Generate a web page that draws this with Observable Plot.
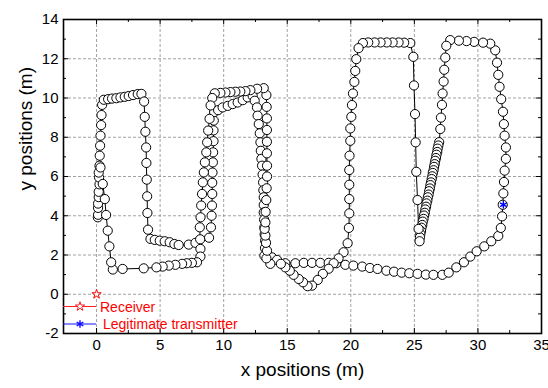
<!DOCTYPE html>
<html><head><meta charset="utf-8">
<script src="https://cdn.jsdelivr.net/npm/d3@7"></script>
<script src="https://cdn.jsdelivr.net/npm/@observablehq/plot@0.6"></script>
<style>
html,body{margin:0;padding:0;background:#fff;}
#chart{position:relative;width:548px;height:388px;overflow:hidden;font-family:"Liberation Sans",Arial,sans-serif;}
#chart svg.legend{position:absolute;left:0;top:0;}
</style></head><body><div id="chart"></div>
<script>
// ---- trajectory segments, [x, y] in metres, in walking order ----
const leftUp = [[0.1,3.92],[0.12,4.05],[0.12,4.4],[0.12,4.62],[0.17,4.95],[0.17,5.22],[0.23,5.6],[0.2,5.95],[0.17,6.2],[0.23,6.55],[0.25,7.06],[0.28,7.57],[0.31,8.08],[0.36,8.62],[0.39,9.13],[0.44,9.65]];
const firstTop = [[0.57,9.91],[0.91,9.94],[1.22,9.97],[1.56,9.99],[1.88,10.03],[2.22,10.06],[2.53,10.1],[2.87,10.15],[3.24,10.2],[3.53,10.21]];
const firstDown = [[3.74,9.82],[3.79,9.04],[3.84,8.28],[3.9,7.48],[3.92,6.69],[3.95,5.84],[3.98,4.99],[4.0,4.14],[4.05,3.29],[4.24,2.82]];
const innerLow = [[4.58,2.77],[4.97,2.73],[5.36,2.7],[5.75,2.65],[6.12,2.56],[6.46,2.51],[7.25,2.53],[7.78,2.62],[8.85,2.88]];
const innerUp = [[9.0,3.41],[9.05,4.0],[9.08,4.52],[9.1,5.11],[9.1,5.68],[9.12,6.2],[9.15,6.72],[9.17,7.23],[9.2,7.8],[9.2,8.35],[9.22,8.85],[9.25,9.28]];
const innerTop = [[9.56,9.38],[9.92,9.52],[10.32,9.6],[10.71,9.69],[11.1,9.77],[11.5,9.89],[11.89,10.03],[12.28,10.11]];
const innerDown = [[12.44,9.86],[12.62,9.52],[12.67,9.1],[12.76,8.67],[12.84,8.2],[12.89,7.74],[12.92,7.31],[12.97,6.9],[13.02,6.55],[13.06,6.1],[13.1,5.7],[13.12,5.3],[13.15,4.94],[13.15,4.55],[13.15,4.17],[13.18,3.8],[13.2,3.41],[13.22,3.05],[13.26,2.73],[13.25,2.35],[13.2,1.97]];
const lowerRow = [[13.8,1.88],[14.2,1.75],[14.85,1.58],[15.64,1.58],[16.3,1.6],[16.95,1.6],[17.6,1.6],[18.26,1.6],[18.86,1.58],[19.57,1.5],[20.2,1.46],[20.9,1.41],[21.5,1.34],[22.1,1.29],[22.8,1.2],[23.4,1.15],[24.0,1.1],[24.6,1.07],[25.25,1.04],[25.9,1.0],[26.5,0.99],[27.2,0.99],[27.7,1.1],[28.3,1.37],[28.9,1.63],[29.4,1.92],[29.9,2.19],[30.5,2.44],[31.05,2.7],[31.6,2.97]];
const rightUp = [[31.8,3.38],[31.9,3.97],[31.95,4.56],[32.0,5.14],[32.05,5.72],[32.1,6.3],[32.2,6.9],[32.2,7.48],[32.1,8.08],[32.04,8.67],[31.97,9.3],[31.83,9.94],[31.7,10.57],[31.6,11.18],[31.5,11.8],[31.36,12.43]];
const rightTop = [[30.97,12.77],[30.4,12.82],[29.7,12.86],[29.1,12.9],[28.5,12.92],[27.82,12.95],[27.51,12.66]];
const rightDown = [[27.43,12.06],[27.35,11.44],[27.3,10.84],[27.22,10.23],[27.17,9.65],[27.09,9.0],[27.04,8.42],[26.95,7.75]];
const diagonal = [[26.89,7.58],[26.83,7.42],[26.8,7.25],[26.74,7.11],[26.7,6.94],[26.64,6.8],[26.6,6.63],[26.55,6.49],[26.51,6.32],[26.45,6.18],[26.41,6.01],[26.36,5.87],[26.31,5.7],[26.26,5.56],[26.22,5.39],[26.16,5.25],[26.12,5.08],[26.06,4.94],[26.02,4.77],[25.96,4.63],[25.92,4.46],[25.86,4.32],[25.82,4.15],[25.76,4.01],[25.72,3.84],[25.66,3.7],[25.62,3.53],[25.56,3.39],[25.52,3.22],[25.47,3.07],[25.44,2.9]];
const midUp = [[25.41,2.7],[25.33,3.33],[25.25,4.8],[25.15,6.24],[25.1,7.74],[25.05,9.18],[24.97,10.64],[24.92,12.1]];
const midTop = [[24.68,12.8],[24.2,12.82],[23.76,12.83],[23.29,12.83],[22.82,12.83],[22.34,12.83],[21.87,12.83],[21.37,12.83],[20.95,12.8],[20.61,12.54]];
const midDown = [[20.43,11.98],[20.35,11.38],[20.28,10.82],[20.17,10.23],[20.09,9.64],[20.04,9.04],[19.96,8.45],[19.96,7.82],[19.9,7.06],[19.88,6.33],[19.88,5.58],[19.88,4.85],[19.88,4.12],[19.85,3.38],[19.75,2.6]];
const dip = [[19.43,2.14],[19.04,1.83],[18.65,1.58],[18.26,1.3],[17.8,1.04],[17.4,0.73],[16.95,0.44],[16.6,0.41],[16.24,0.61],[15.9,0.78],[15.5,0.99],[15.2,1.2],[14.85,1.37],[14.5,1.55],[13.67,1.55],[13.36,1.83]];
const outerUp = [[13.41,2.22],[13.33,2.62],[13.28,2.99],[13.22,3.33],[13.28,3.66],[13.3,4.2],[13.35,4.8],[13.38,5.4],[13.41,6.0],[13.41,6.55],[13.4,7.18],[13.4,7.77],[13.4,8.37],[13.4,8.96],[13.38,9.55],[13.36,10.15]];
const outerTop = [[13.15,10.5],[12.63,10.47],[12.1,10.4],[11.71,10.35],[11.31,10.33],[10.92,10.32],[10.53,10.3],[10.14,10.28],[9.74,10.26],[9.3,10.24]];
const outerDown = [[9.1,10.0],[8.97,9.62],[8.89,8.94],[8.78,8.34],[8.7,7.74],[8.63,7.23],[8.52,6.72],[8.44,6.21],[8.36,5.7],[8.3,5.11],[8.23,4.52],[8.18,3.92],[8.12,3.41],[8.15,2.8],[8.17,2.31],[8.17,1.92]];
const bottomRow = [[7.9,1.63],[7.5,1.6],[7.1,1.58],[6.73,1.55],[6.2,1.5],[5.68,1.46],[5.2,1.41],[4.71,1.37],[3.71,1.32],[2.05,1.29],[1.28,1.26]];
const leftEnd = [[1.15,1.63],[1.01,2.44],[0.88,3.24],[0.75,4.04],[0.65,4.85],[0.49,5.62],[0.31,6.46]];

const receiver = [{x: 0, y: 0}];
const transmitter = [{x: 32, y: 4.56}];

const xMajor = [0, 5, 10, 15, 20, 25, 30, 35];
const xMinor = [2.5, 7.5, 12.5, 17.5, 22.5, 27.5, 32.5];
const yMajor = [-2, 0, 2, 4, 6, 8, 10, 12, 14];
const yMinor = [-1, 1, 3, 5, 7, 9, 11, 13];
const xGrid = [0, 5, 10, 15, 20, 25, 30];
const yGrid = [0, 2, 4, 6, 8, 10, 12];

const xLabel = "x positions (m)";
const yLabel = "y positions (m)";
const legendLabels = ["Receiver", "Legitimate transmitter"];
const legendSymbols = [d3.symbolStar, d3.symbolAsterisk];
const legendColors = ["#ff2020", "#1010ff"];

// ---- build ----
const segments = [leftUp, firstTop, firstDown, innerLow, innerUp, innerTop, innerDown, lowerRow, rightUp, rightTop, rightDown, diagonal, midUp, midTop, midDown, dip, outerUp, outerTop, outerDown, bottomRow, leftEnd];
const path = segments.flat().map(([x, y]) => ({x, y}));

const W = 548, H = 388, mL = 63, mR = 7, mT = 19, mB = 55;
const pw = W - mL - mR, ph = H - mT - mB;
const font = '"Liberation Sans", Arial, sans-serif';
const gridStyle = {stroke: "#8a8a8a", strokeOpacity: 1, strokeWidth: 0.8, strokeDasharray: "3,2"};

const chart = Plot.plot({
  width: W, height: H,
  marginLeft: mL, marginRight: mR, marginTop: mT, marginBottom: mB,
  style: {fontFamily: font, fontSize: "15px", background: "white", color: "black"},
  x: {domain: [-2.6, 35], ticks: xMajor, tickSize: 0, tickPadding: 6, tickFormat: d => String(d), label: null},
  y: {domain: [-2, 14], ticks: yMajor, tickSize: 0, tickPadding: 5, tickFormat: d => String(d), label: null},
  marks: [
    Plot.ruleX(xGrid, {x: d => d, ...gridStyle}),
    Plot.ruleY(yGrid, {y: d => d, ...gridStyle}),
    Plot.line(path, {x: "x", y: "y", stroke: "black", strokeWidth: 1}),
    Plot.dot(path, {x: "x", y: "y", r: 4.6, fill: "white", stroke: "black", strokeWidth: 1}),
    Plot.dot(receiver, {x: "x", y: "y", symbol: "star", r: 2.9, fill: "white", stroke: "#ff0000", strokeWidth: 1}),
    Plot.dot(transmitter, {x: "x", y: "y", symbol: "asterisk", r: 3.6, stroke: "#0000ff", strokeWidth: 1.4}),
    // inward ticks on all four sides
    Plot.tickX(xMajor, {x: d => d, insetTop: ph - 5, stroke: "black"}),
    Plot.tickX(xMinor, {x: d => d, insetTop: ph - 3, stroke: "black"}),
    Plot.tickX(xMajor, {x: d => d, insetBottom: ph - 5, stroke: "black"}),
    Plot.tickX(xMinor, {x: d => d, insetBottom: ph - 3, stroke: "black"}),
    Plot.tickY(yMajor, {y: d => d, insetRight: pw - 5, stroke: "black"}),
    Plot.tickY(yMinor, {y: d => d, insetRight: pw - 3, stroke: "black"}),
    Plot.tickY(yMajor, {y: d => d, insetLeft: pw - 5, stroke: "black"}),
    Plot.tickY(yMinor, {y: d => d, insetLeft: pw - 3, stroke: "black"}),
    Plot.frame({stroke: "black", strokeWidth: 1.6}),
    Plot.text([xLabel], {text: d => d, frameAnchor: "bottom", dy: 42, fontSize: 19}),
    Plot.text([yLabel], {text: d => d, frameAnchor: "left", dx: -38, dy: 14, rotate: -90, fontSize: 19})
  ]
});
document.getElementById("chart").appendChild(chart);

// ---- legend (inside the plot, lower left) ----
const leg = d3.select("#chart").append("svg").attr("class", "legend")
  .attr("width", W).attr("height", H);
const rowsY = [306.5, 324];
const textX = [100, 103];
legendLabels.forEach((lab, i) => {
  const g = leg.append("g");
  g.append("line").attr("x1", mL).attr("x2", 96).attr("y1", rowsY[i]).attr("y2", rowsY[i])
    .attr("stroke", legendColors[i]).attr("stroke-width", 1);
  const size = i === 0 ? Math.PI * 2.9 * 2.9 : Math.PI * 3.6 * 3.6;
  g.append("path").attr("d", d3.symbol(legendSymbols[i], size)())
    .attr("transform", `translate(80,${rowsY[i]})`)
    .attr("fill", i === 0 ? "white" : "none")
    .attr("stroke", legendColors[i]).attr("stroke-width", i === 0 ? 1 : 1.4);
  g.append("text").attr("x", textX[i]).attr("y", rowsY[i]).attr("dy", "0.36em")
    .attr("fill", "#ff0000").attr("font-family", font).attr("font-size", 14).text(lab);
});
</script></body></html>
